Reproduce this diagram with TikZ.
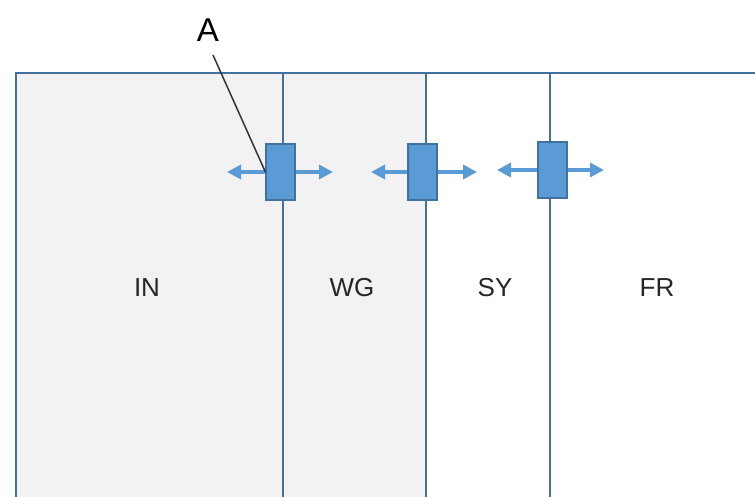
\documentclass[tikz,border=0pt]{standalone}
\usepackage{fontspec}
\setmainfont{Liberation Sans}
\usepackage{tikz}
\usetikzlibrary{arrows.meta,positioning}
\definecolor{edgeblue}{HTML}{41719C}
\definecolor{fillblue}{HTML}{5B9BD5}
\definecolor{zonegray}{HTML}{F2F2F2}

\begin{document}
\begin{tikzpicture}[
x=1pt,y=-1pt,
zonelabel/.style={font=\fontsize{26}{30}\selectfont,text=black!85},
slider/.style={draw=edgeblue,fill=fillblue,line width=1.2pt,minimum width=29pt,minimum height=56pt,inner sep=0pt},
push/.style={-{Triangle[length=14pt,width=14pt]},draw=fillblue,line width=3.5pt,fill=fillblue}]
    \useasboundingbox (0,0) rectangle (755,497);
    % Draw zones
    \fill[zonegray] (16,73) rectangle (426,497);
    \draw[edgeblue,line width=1.5pt] (16,497) |- (755,73);
    \foreach \x in {283,426,550}
        \draw[edgeblue,line width=1.3pt] (\x,73) -- (\x,497);

    \node[zonelabel] (in) at (147,288) {IN};
    \node[zonelabel] (wg) at (352,288) {WG};
    \node[zonelabel] (sy) at (495,288) {SY};
    \node[zonelabel] (fr) at (657,288) {FR};

    % Sliders with arrows
    \node[slider] (boxA) at (280.5,172) {};
    \node[slider] (boxB) at (422.5,172) {};
    \node[slider] (boxC) at (552.5,170) {};

    \coordinate (la) at (227,172);
    \coordinate (ra) at (333,172);
    \coordinate (lb) at (371,172);
    \coordinate (rb) at (477,172);
    \coordinate (lc) at (497,170);
    \coordinate (rc) at (604,170);

    \draw[push] (boxA.west) -- (la);
    \draw[push] (boxA.east) -- (ra);
    \draw[push] (boxB.west) -- (lb);
    \draw[push] (boxB.east) -- (rb);
    \draw[push] (boxC.west) -- (lc);
    \draw[push] (boxC.east) -- (rc);

    % Label A
    \node[font=\fontsize{33}{36}\selectfont] (lblA) at (208,30) {A};
    \coordinate (tail) at (213,55);
    \draw[black!80,line width=1.5pt] (tail) -- (boxA.west);

\end{tikzpicture}
\end{document}
